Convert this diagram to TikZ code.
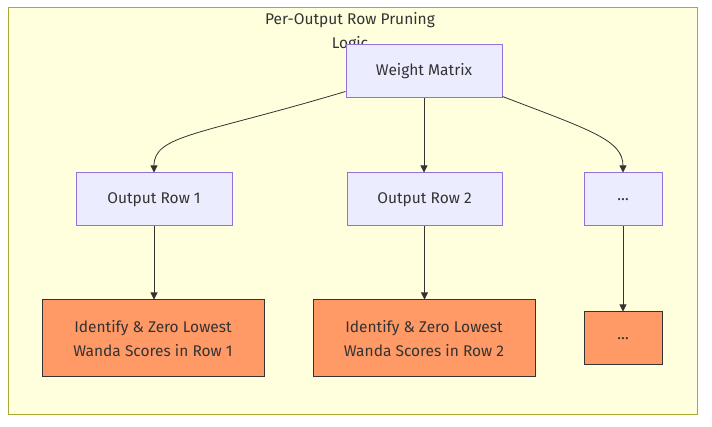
\documentclass[tikz,border=0pt]{standalone}
\usepackage{fontspec}
\setmainfont{Fira Sans}
\usetikzlibrary{arrows.meta}
\definecolor{clusterfill}{HTML}{FFFFDE}
\definecolor{clusterline}{HTML}{AAAA33}
\definecolor{nodefill}{HTML}{ECECFF}
\definecolor{nodeline}{HTML}{9370DB}
\definecolor{orangefill}{HTML}{FF9966}
\definecolor{darkline}{HTML}{333333}
\tikzset{
  bluebox/.style={draw=nodeline, fill=nodefill, line width=1pt, minimum height=53pt, inner sep=0pt, align=center, font=\fontsize{15.5}{24}\selectfont, text=darkline},
  orangebox/.style={draw=darkline, fill=orangefill, line width=1pt, inner sep=0pt, align=center, font=\fontsize{15.5}{24}\selectfont, text=darkline},
  conn/.style={draw=darkline, line width=0.8pt, -{Triangle[length=7pt,width=7pt]}}
}
\begin{document}
\begin{tikzpicture}[x=1pt,y=-1pt]
\useasboundingbox (0,0) rectangle (712,427);
\draw[fill=clusterfill, draw=clusterline, line width=1pt] (8,8) rectangle (697,414);
\node[font=\fontsize{15.5}{24}\selectfont, text=darkline, align=center] (title) at (350,32) {Per-Output Row Pruning\\Logic};
\node[bluebox, minimum width=156pt] (wm) at (424,71.5) {Weight Matrix};
\node[bluebox, minimum width=156pt] (r1) at (154,199.5) {Output Row 1};
\node[bluebox, minimum width=155pt] (r2) at (424.5,199.5) {Output Row 2};
\node[bluebox, minimum width=78pt] (r3) at (623,199.5) {\dots};
\node[orangebox, minimum width=222pt, minimum height=77pt] (z1) at (153,338.5) {Identify \& Zero Lowest\\Wanda Scores in Row 1};
\node[orangebox, minimum width=222pt, minimum height=77pt] (z2) at (424,338.5) {Identify \& Zero Lowest\\Wanda Scores in Row 2};
\node[orangebox, minimum width=78pt, minimum height=53pt] (z3) at (623,338.5) {\dots};
\draw[conn] ([yshift=-20pt]wm.west) .. controls (200,135) and (154,135) .. (r1.north);
\draw[conn] (wm.south) -- (wm.south |- r2.north);
\draw[conn] ([yshift=-25pt]wm.east) .. controls (590,130) and (623,140) .. (r3.north);
\draw[conn] (r1.south) -- (r1.south |- z1.north);
\draw[conn] (r2.south) -- (r2.south |- z2.north);
\draw[conn] (r3.south) -- (z3.north);
\end{tikzpicture}
\end{document}
